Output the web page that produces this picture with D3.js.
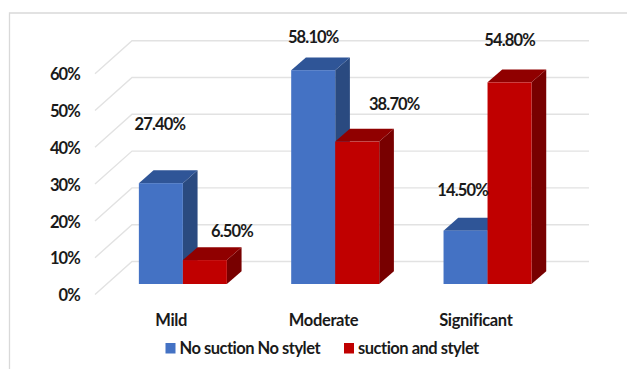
<!DOCTYPE html>
<html>
<head>
<meta charset="utf-8">
<script src="https://cdn.jsdelivr.net/npm/d3@7/dist/d3.min.js"></script>
<style>
  html, body { margin: 0; padding: 0; background: #fff; }
  svg { display: block; }
  text { font-family: Lato, "Open Sans", sans-serif; font-weight: 700; fill: #1a1a1a; font-size: 16.5px; }
  .word { letter-spacing: -0.35px; }
  .legend { letter-spacing: -0.5px; }
  .num { letter-spacing: -0.85px; }
</style>
</head>
<body>
<svg id="chart" width="627" height="369"></svg>
<script>
const categories = ["Mild", "Moderate", "Significant"];
const seriesNames = ["No suction No stylet", "suction and stylet"];
const noSuction = [27.4, 58.1, 14.5];
const withSuction = [6.5, 38.7, 54.8];
const valueLabels = [["27.40%", "58.10%", "14.50%"], ["6.50%", "38.70%", "54.80%"]];
const tickValues = [0, 10, 20, 30, 40, 50, 60];

// Hand-placed data label nudges relative to each bar's top centre
const labelNudge = [
  [[-1, -59], [0, -33], [-3, -41]],
  [[27, -29], [37, -38], [0, -42]]
];

const palette = [
  { front: "#4472c4", top: "#2f5597", side: "#2a4a80" },
  { front: "#c00000", top: "#900000", side: "#780000" }
];

const svg = d3.select("#chart");

// Oblique projection: the floor runs from the front edge to the back wall
const wallShift = { x: 37, y: -33 };
const barShift = { x: 11.7, y: -10.5 };
const barDepth = { x: 14.7, y: -12.8 };

const x = d3.scaleBand().domain(categories).range([95, 552]);
const y = d3.scaleLinear().domain([0, 60]).range([294.5, 73.7]);
const groupWidth = 88;
const inner = d3.scaleBand().domain([0, 1]).range([-groupWidth / 2, groupWidth / 2]);

// Outer frame
svg.append("path")
  .attr("d", "M9.5,369V13H627")
  .attr("fill", "none").attr("stroke", "#d9d9d9").attr("stroke-width", 1.3);

// Back wall and side wall gridlines
const grid = svg.append("g").attr("fill", "none").attr("stroke", "#e2e2e2").attr("stroke-width", 1.4);
tickValues.forEach(t => {
  const yy = y(t);
  grid.append("path").attr("d",
    `M${x.range()[0]},${yy}L${x.range()[0] + wallShift.x},${yy + wallShift.y}L${x.range()[1] + wallShift.x},${yy + wallShift.y}`);
});

// Value axis
const yAxis = svg.append("g")
  .attr("transform", "translate(80,1)")
  .call(d3.axisLeft(y).tickValues(tickValues).tickSize(0).tickPadding(0).tickFormat(d => d + "%"));
yAxis.select(".domain").remove();
yAxis.selectAll("text").attr("class", "num").style("font-size", "16.5px").style("font-family", null);

// Category axis
const xAxis = svg.append("g")
  .attr("transform", "translate(0,314)")
  .call(d3.axisBottom(x).tickSize(0).tickPadding(0));
xAxis.select(".domain").remove();
xAxis.selectAll("text").attr("class", "word").style("font-size", "16.5px").style("font-family", null);

// Bars: sides and top first in each pair, then the front face
const bars = svg.append("g");
const series = [noSuction, withSuction];
categories.forEach((c, ci) => {
  series.forEach((vals, si) => {
    const x0 = x(c) + x.bandwidth() / 2 + barShift.x + inner(si);
    const x1 = x0 + inner.bandwidth();
    const yTop = y(vals[ci]) + barShift.y;
    const yBase = y(0) + barShift.y;
    const dx = barDepth.x, dy = barDepth.y;
    const g = bars.append("g");
    g.append("path").attr("fill", palette[si].side)
      .attr("d", `M${x1},${yTop}L${x1 + dx},${yTop + dy}L${x1 + dx},${yBase + dy}L${x1},${yBase}Z`);
    g.append("path").attr("fill", palette[si].top)
      .attr("d", `M${x0},${yTop}L${x0 + dx},${yTop + dy}L${x1 + dx},${yTop + dy}L${x1},${yTop}Z`);
    g.append("rect").attr("fill", palette[si].front)
      .attr("x", x0).attr("y", yTop).attr("width", x1 - x0).attr("height", yBase - yTop);
  });
});

// Value labels
categories.forEach((c, ci) => {
  series.forEach((vals, si) => {
    const cx = x(c) + x.bandwidth() / 2 + barShift.x + inner(si) + inner.bandwidth() / 2;
    const [nx, ny] = labelNudge[si][ci];
    svg.append("text")
      .attr("class", "num")
      .attr("x", cx + nx)
      .attr("y", y(vals[ci]) + barShift.y + ny)
      .attr("text-anchor", "middle")
      .attr("dominant-baseline", "central")
      .text(valueLabels[si][ci]);
  });
});

// Legend
const legendX = [165.5, 344];
seriesNames.forEach((name, i) => {
  svg.append("rect").attr("x", legendX[i]).attr("y", 343)
    .attr("width", 10).attr("height", 10.5).attr("fill", palette[i].front);
  svg.append("text").attr("class", "legend").attr("x", legendX[i] + 14).attr("y", 348)
    .attr("dominant-baseline", "central").text(name);
});
</script>
</body>
</html>
